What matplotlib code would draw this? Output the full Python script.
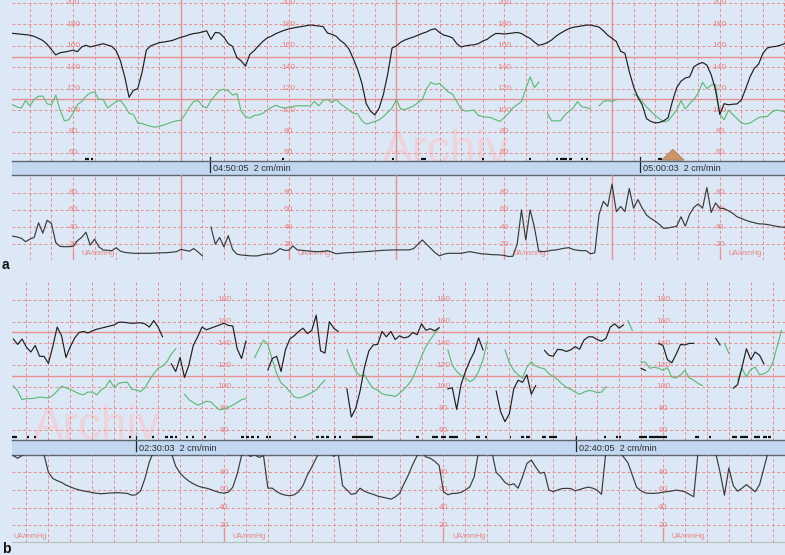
import numpy as np
import matplotlib.pyplot as plt

plt.rcParams['font.family'] = ['Liberation Sans', 'DejaVu Sans']

nan = np.nan

# ---- panel a : minutes on the strip, one sample every 0.1 min from 3.6 ----
t0_a = 3.6
fhr_a = [171.7, 171.3, 170.8, 170.5, 170.0, 168.8, 167.0, 165.0, 161.5, 156.5,
         151.5, 153.6, 154.2, 155.0, 156.0, 154.5, 159.0, 160.5, 159.0, 160.0,
         161.0, 162.0, 160.8, 159.5, 155.5, 146.0, 131.0, 112.0, 118.5, 120.0,
         135.0, 156.0, 160.0, 161.5, 163.0, 163.5, 164.2, 165.0, 166.5, 168.0,
         169.0, 170.5, 171.5, 172.0, 173.0, 174.0, 166.0, 172.5, 172.0, 168.0,
         162.0, 159.5, 149.0, 146.0, 141.0, 152.0, 155.5, 160.0, 164.0, 167.3,
         169.0, 171.3, 173.0, 174.5, 175.8, 176.6, 177.4, 178.0, 178.8, 179.5,
         179.0, 178.5, 178.0, 172.0, 170.8, 169.0, 165.0, 162.0, 157.0, 148.0,
         138.0, 125.0, 106.0, 99.0, 95.5, 102.0, 115.0, 134.0, 158.0, 160.0,
         163.5, 165.5, 167.0, 168.3, 170.0, 171.6, 173.0, 175.0, 176.0, 172.5,
         170.0, 169.0, 167.5, 162.0, 159.0, 160.0, 160.6, 161.0, 162.0, 164.5,
         166.0, 169.0, 171.5, 171.5, 171.0, 171.5, 172.0, 172.5, 171.5, 169.0,
         167.0, 163.5, 160.5, 161.5, 163.0, 165.5, 169.0, 171.7, 174.0, 176.0,
         177.3, 178.0, 178.8, 179.3, 179.5, 178.5, 177.5, 174.0, 170.0, 167.0,
         164.0, 155.0, 153.0, 136.0, 122.0, 112.0, 105.0, 92.0, 89.5, 88.0,
         88.5, 90.0, 93.0, 108.0, 121.0, 127.0, 130.0, 131.0, 140.5, 143.0,
         144.5, 142.0, 133.0, 119.0, 96.0, 106.0, 105.0, 105.5, 105.8, 109.5,
         120.0, 131.0, 139.0, 143.0, 153.0, 158.0, 159.0, 159.5, 160.5, 162.0]
mhr_a = [105, 103, 102, 109, 104, 110, 113, 113, 106, 105,
         114, 100, 90, 91, 97, 105, 108, 113, 116, 117,
         110, 110, 102, 105, 108, 109, 104, 97, 96, 88,
         87.5, 86, 85, 84, 85, 86, 87.5, 89, 90, 90.5,
         96, 103, 108, 109, 104, 102, 109, 114, 118.5, 119.5,
         118, 114, 115.5, 99, 94, 92.5, 95, 95.5, 97, 100,
         102.5, 104.5, 103, 102, 102.5, 103.5, 104, 104, 104, 104,
         108, 104, 109, 110, 107, 110, 106, 103, 100, 97,
         96.5, 90, 87, 88, 89.5, 91, 94, 98, 102, 110,
         101, 100.5, 102, 104, 107, 110, 120, 126, 124, 125,
         121, 117, 115, 108, 101, 99, 99.5, 100, 95, 94,
         93.5, 93, 91, 89.5, 93, 97, 102, 105, 108, 120,
         131, 121, 126, nan, 97, 90, 90, 90, 95, 99,
         102, 108, 103, 102.5, 101, nan, 104, 108, 109, 108,
         110, nan, nan, nan, 115, 113, 108, 103, 99, 95,
         92, 89, 90, 95, 100, 109, 101, 106, 110, 116,
         126, 120, 123.5, 124, 96, 91, 100, 96, 92, 88,
         87, 88, 90.5, 93, 94, 94, 98, 100, 99.5, 98.5]
ua_a = [29.5, 28.5, 27, 23, 26, 28, 45, 33, 48, 44,
        22, 17.5, 17.2, 17.2, 17.5, 24, 28, 34, 19, 26,
        17, 13.4, 13, 12.6, 16, 12, 10.5, 10, 9.5, 9.5,
        9.5, 9.5, 9.5, 9.8, 10, 10.2, 10.3, 10.8, 11.4, 14,
        13, 12, 15, 11, 6.4, nan, 40, 20, 28, 17,
        30, 14, 8.5, 7.5, 7, 6.6, 6.4, 6.6, 8, 8.7,
        8.7, 11, 15, 13, 13, 18, 13.5, 13, 12.5, 12,
        11.5, 11.4, 11.8, 12.5, 11, 9, 9.5, 10, 10.2, 10.5,
        10.8, 11.2, 11.4, 11.8, 12.2, 12.6, 13, 13.2, 13.4, 13.4,
        13.4, 13.4, 13.5, 15, 20, 25, 20, 15, 10, 6.5,
        8.5, 9.5, 9.5, 9.5, 9.5, 10.5, 11.4, 10.5, 9.5, 8.7,
        8.5, 8, 7.8, 7.6, 7, 5.8, 6, 20, 60, 25,
        60, 40, 12, 11.4, 12, 13, 13.4, 14.5, 15.5, 16,
        14, 13, 12.6, 12.6, 9, 10, 55, 70, 64, 90,
        58, 64, 58, 85, 62, 72, 62, 54, 50, 47,
        43, 38.5, 39, 40, 41, 52, 41, 55, 63, 67,
        62, 86, 57, 68, 62, 61.5, 59, 56, 52, 50,
        48, 46.3, 45, 43.8, 43.6, 43, 42, 41, 40.2, 39.8]

# movement marks (start, end) in minutes and the contraction marker
marks_a = [(5.28, 5.37), (5.42, 5.46), (9.85, 9.89), (12.40, 12.44), (13.07, 13.19),
           (14.49, 14.53), (15.58, 15.62), (16.20, 16.25), (16.29, 16.46), (16.50, 16.57),
           (16.78, 16.83), (16.90, 16.94), (18.57, 18.66), (19.03, 19.12)]
event_a = (18.65, 18.91, 19.17)
times_a = [(8.18, '04:50:05  2 cm/min'), (18.15, '05:00:03  2 cm/min')]

# ---- panel b ----
t0_b = 0.2
fhr_b = [144, 139, 144, 136.5, 132, 138, 128, 128, 121.5, 137,
         155, 147, 127, 137, 145, 150, 151, 149.5, 151.5, 153,
         154, 155, 156, 157, 159.5, 159.5, 159, 158.5, 158.8, 159,
         158, 155, 161, 155, 146, nan, 121, 114, 127, 108.5,
         120, 138, 146, 155, 152.5, 154, 155.5, 157, 158.5, 156.5,
         156, 135, 126, 142, nan, nan, nan, nan, 115.5, 126,
         128, 114, 134, 144, 147, 151, 154, 149, 152, 166,
         133, 131, 160, 154, 151, nan, 98, 72, 80, 96,
         118, 133, 138.5, 139, 151, 146, 151, 143.5, 147, 145,
         146, 150, 148, 158, 152, 153.5, 151.5, 154.5, nan, 98,
         99, 79, 102, 114, 124, 132, 145, 134, nan, nan,
         96, 77, 67.7, 75, 98, 106, 104, 111, 93, 101,
         nan, 133.5, 129, 128, 134.5, 134, 132.5, 134, 137, 134.5,
         143, 146, 146, 143.5, 142, 144.5, 155, 158, 154, 157,
         nan, nan, nan, 117, 115, nan, nan, 140, 138, 125,
         122, 130, 139, 138.5, 140, 140, nan, nan, nan, nan,
         144.6, 138.5, nan, nan, 98.5, 102, 118, 135, 125, 132,
         129, 121, nan, nan, nan, nan]
mhr_b = [101, 96, 88, 89, 89, 89.5, 90.5, 90, 89.5, 92,
         96, 100.5, 99, 97.5, 95.5, 93.5, 92.5, 95, 95, 92.5,
         97, 99.5, 106, 99, 103, 104, 104, 97.5, 97, 95.5,
         99, 106, 112, 117, 119, 123, 130, 135, nan, 93,
         88, 85.5, 83, 84.5, 86.5, 86, 82, 78.5, 79.5, 81,
         83, 85.5, 88, 89, nan, 127, 135, 143, 139, 125,
         112, 103.5, 100, 95.5, 90.5, 89.5, 90.5, 92.5, 94.5, 97,
         102, 106, nan, nan, nan, nan, 134, 124, 114, 110,
         111, 104, 98.5, 97, 93.5, 92.3, 92, 91, 94, 97.5,
         102, 108, 118, 128, 137, 143.5, 149, 154, nan, 134,
         120, 114, 110.5, 108, 104.6, 107, 114, 125, 142, nan,
         nan, nan, 134, 122, 115, 111, 108, 118, 123, 119,
         117.5, 116.5, 112, 109.2, 106.5, 102.5, 99.5, 97.5, 95, 93,
         95, 96.5, 96, 94.5, 95, 100, nan, nan, nan, nan,
         161, 152, nan, 123, 122.5, 117, 118, 117, 115, 117.5,
         109, 108, 111, 115, 108, 106, 103, 101, nan, nan,
         nan, nan, 140, 131, nan, 106, 117, 109, 116, 118,
         111, 112, 114.5, 122, 137, 152]
ua_b = [99, 96, 99, 104, 105, 105, 105, 100, 80, 73,
        70.5, 68.5, 65.5, 63.5, 61.5, 60, 58.8, 58, 57, 56.2,
        55.7, 56, 56.5, 56.7, 56.9, 56.5, 56, 54, 54.5, 59,
        73, 92, 104, 105, 105, 105, 102, 87, 79, 74,
        70, 67, 64.5, 63, 62, 60.5, 58.5, 57, 56.3, 57.5,
        63, 78, 99, 102, 98, 100, 97, 99, 62, 62,
        58, 55.5, 54, 53.4, 54.5, 58, 65, 77, 86, 96,
        105, 105, 105, 98, 102, 65, 60, 55, 56, 62,
        58.5, 56.5, 55, 53, 51.8, 50.8, 49.5, 52, 56, 67,
        77, 89, 99, 102, 97.5, 96, 92.5, 88, 58, 54.5,
        56, 56.1, 57.3, 60, 63.5, 75, 104, 105, 105, 104,
        80, 75, 68.5, 65.5, 67, 62, 75, 90, 94, 86,
        79, 80, 60, 58, 60, 61.5, 61.8, 61.5, 59, 60.5,
        62, 63.2, 62, 59.8, 55, 104, 105, 105, 104, 97.5,
        91, 77, 63, 59, 56.5, 56.1, 56.1, 56.5, 57.5, 58,
        58.8, 59.8, 59, 58, 55, 52.3, 104, 105, 105, 105,
        102, 80, 54, 85, 65, 58.5, 62, 66, 62, 58,
        66, 85, 104, 105, 105, 105]
marks_b = [(0.17, 0.29), (0.51, 0.56), (0.67, 0.72), (2.84, 2.88), (3.36, 3.41),
           (3.66, 3.72), (3.77, 3.84), (3.88, 3.93), (4.13, 4.18), (4.27, 4.32),
           (4.54, 4.59), (5.39, 5.46), (5.50, 5.57), (5.62, 5.68), (5.75, 5.80),
           (5.96, 6.00), (6.03, 6.07), (6.59, 6.64), (7.10, 7.16), (7.21, 7.28),
           (7.32, 7.39), (7.51, 7.55), (7.62, 7.67), (7.92, 8.39), (9.37, 9.44),
           (9.74, 9.87), (9.94, 10.06), (10.13, 10.33), (10.74, 10.83), (10.95, 10.99),
           (11.51, 11.54), (11.77, 11.83), (11.88, 11.97), (12.24, 12.33), (12.40, 12.59),
           (13.66, 13.70), (13.93, 13.97), (14.00, 14.04), (14.45, 14.64), (14.68, 15.09),
           (15.73, 15.82), (16.05, 16.09), (16.57, 16.69), (16.75, 16.94), (17.07, 17.21),
           (17.28, 17.37), (17.39, 17.46)]
times_b = [(3.00, '02:30:03  2 cm/min'), (13.01, '02:40:05  2 cm/min')]

W, H = 785, 555
BG = '#dce8f5'
GRID = '#eb8c8c'
LABEL = '#e98484'
DASH = (0, (3, 2.5))

fig = plt.figure(figsize=(W / 100, H / 100), dpi=100, facecolor=BG)


def box(x0, y0, x1, y1):
    ax = fig.add_axes([x0 / W, 1 - y1 / H, (x1 - x0) / W, (y1 - y0) / H])
    ax.set_facecolor('none')
    ax.set_xticks([])
    ax.set_yticks([])
    for s in ax.spines.values():
        s.set_visible(False)
    return ax


def paper(ax, xlim, ylim, hlines, cols, labels, solid_x=(), solid_y=()):
    ax.set_xlim(*xlim)
    ax.set_ylim(*ylim)
    for t in np.arange(np.ceil(xlim[0] * 2) / 2, xlim[1], 0.5):
        ax.axvline(t, color=GRID, lw=0.7, ls=DASH, zorder=1)
    for v in hlines:
        ax.axhline(v, color=GRID, lw=0.7, ls=DASH, zorder=1)
    for t in solid_x:
        ax.axvline(t, color='#e89090', lw=1.0, zorder=1)
    for v in solid_y:
        ax.axhline(v, color='#e89090', lw=1.0, zorder=1)
    for c in cols:
        for v in labels:
            ax.text(c, v, str(v), ha='center', va='center', fontsize=6,
                    color=LABEL, zorder=2, clip_on=True)


def time_bar(ax, xlim, stamps):
    ax.set_xlim(*xlim)
    ax.set_ylim(0, 1)
    ax.set_facecolor('#c3d7f1')
    for s in ('top', 'bottom'):
        ax.spines[s].set_visible(True)
        ax.spines[s].set_color('#5d6570')
        ax.spines[s].set_linewidth(1.0)
    for t, txt in stamps:
        ax.plot([t, t], [1.3, 0.25], color='#222222', lw=0.9, clip_on=False)
        ax.text(t + 0.07, 0.45, txt, fontsize=6.6, color='#2a2f38', va='center')


def marks(ax, spans, y):
    for a, b in spans:
        ax.hlines(y, a, b, color='#111111', lw=1.6, zorder=4)


# ================= panel a =================
xa = (3.585, 3.585 + 773 / 43.12)
ta = t0_a + 0.1 * np.arange(len(fhr_a))

ax = box(12, 0, 785, 161)
paper(ax, xa, (52.5, 202.8), range(60, 201, 20), (5, 10, 15, 20),
      range(60, 201, 20), solid_x=(7.5, 12.5, 17.5), solid_y=(110, 150))
ax.text(12.17, 50.5, 'Archiv', fontsize=33, color='#eed3dc', zorder=0.5, clip_on=True)
ax.plot(ta, mhr_a, color='#62b97a', lw=0.85, zorder=3)
ax.plot(ta, fhr_a, color='#1e1e1e', lw=0.85, zorder=3.5)
marks(ax, marks_a, 54.2)
ax.fill([event_a[0], event_a[1], event_a[2]], [53.3, 63.5, 53.3],
        color='#c9956b', ec='#a87650', lw=0.5, zorder=4)

bar = box(12, 161, 785, 175)
time_bar(bar, xa, times_a)

ax = box(12, 175, 785, 260)
paper(ax, xa, (1.7, 100.6), (20, 40, 60, 80), (5, 10, 15, 20), (20, 40, 60, 80),
      solid_x=(7.5, 12.5, 17.5))
for c in (5, 10, 15, 20):
    ax.plot([c, c], [13.4, 1.7], color='#e89090', lw=1.0, zorder=1)
    ax.text(c + 0.2, 8.7, 'UA/mmHg', fontsize=5.2, color=LABEL, va='center', clip_on=True)
ax.plot(ta, ua_a, color='#3a3a3a', lw=0.85, zorder=3)

fig.text(2 / W, 1 - 269 / H, 'a', fontsize=10, fontweight='bold', color='#111111')

# ================= panel b =================
xb = (0.171, 0.171 + 773 / 43.9)
tb = t0_b + 0.1 * np.arange(len(fhr_b))

ax = box(12, 282, 785, 440)
paper(ax, xb, (50.8, 196.6), range(60, 181, 20), (5, 10, 15),
      range(60, 181, 20), solid_y=(110, 150))
ax.text(0.65, 52.0, 'Archiv', fontsize=33, color='#eed3dc', zorder=0.5, clip_on=True)
ax.plot(tb, mhr_b, color='#62b97a', lw=0.85, zorder=3)
ax.plot(tb, fhr_b, color='#1e1e1e', lw=0.85, zorder=3.5)
marks(ax, marks_b, 53.6)

bar = box(12, 440, 785, 455)
time_bar(bar, xb, times_b)

ax = box(12, 455, 785, 542)
paper(ax, xb, (0.8, 99.7), (20, 40, 60, 80), (5, 10, 15), (20, 40, 60, 80))
ax.spines['bottom'].set_visible(True)
ax.spines['bottom'].set_color('#b4bcbc')
for c in (5, 10, 15):
    ax.plot([c, c], [16.7, 0.8], color='#e89090', lw=1.0, zorder=1)
for c in (0.2, 5.2, 10.2, 15.2):
    ax.text(c, 7.6, 'UA/mmHg', fontsize=5.2, color=LABEL, va='center', clip_on=True)
ax.plot(tb, ua_b, color='#3a3a3a', lw=0.85, zorder=3)

fig.text(2 / W, 1 - 553 / H, 'b', fontsize=10, fontweight='bold', color='#111111')

fig.savefig('out.png', dpi=100, facecolor=BG)
